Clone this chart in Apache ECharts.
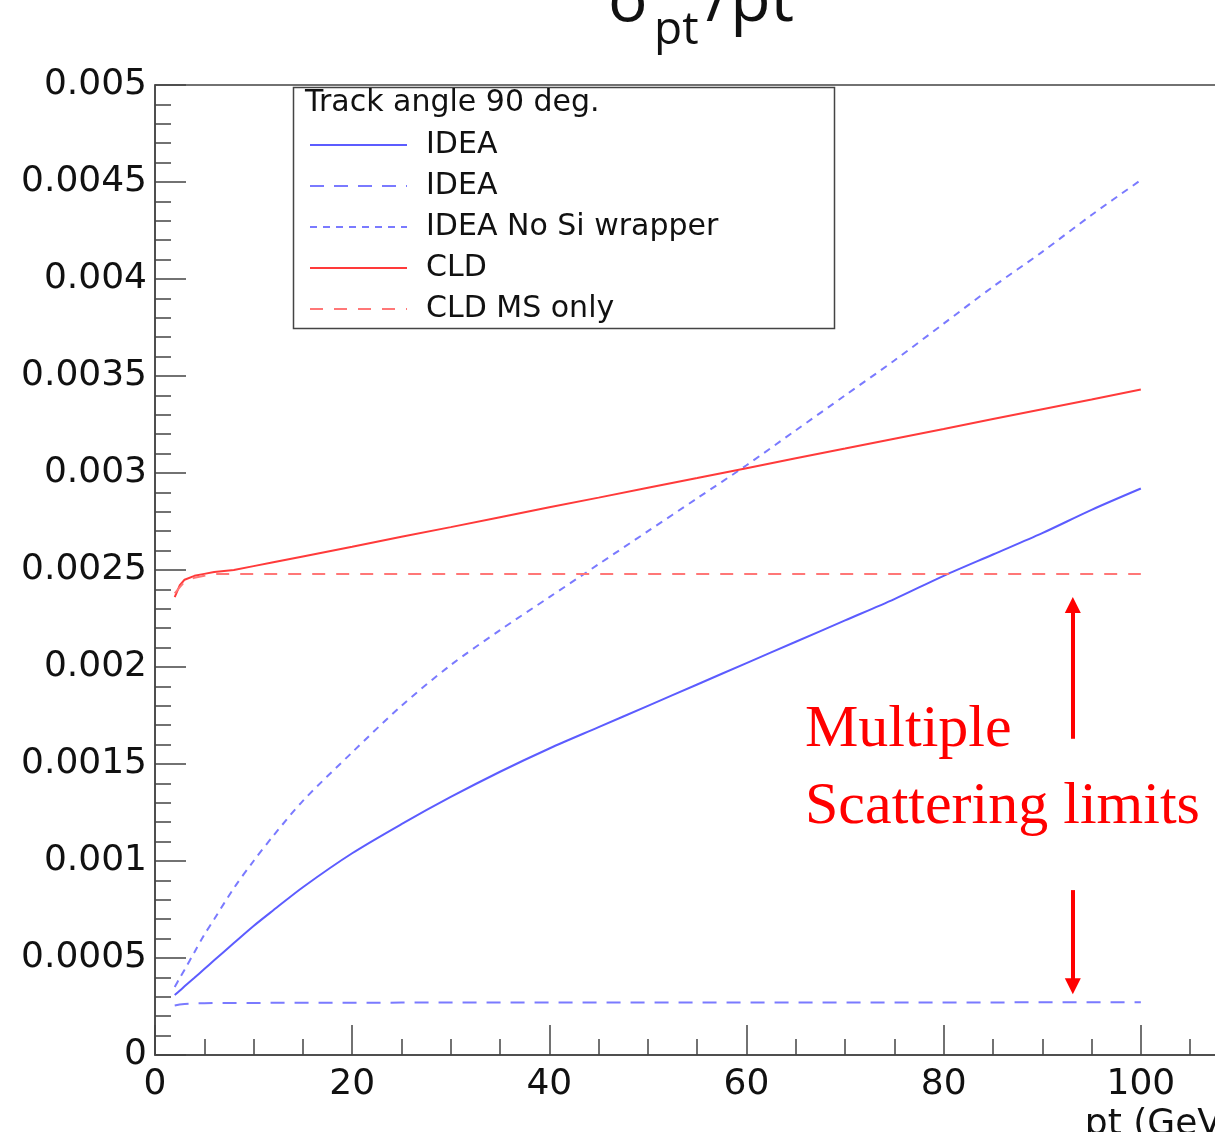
<!DOCTYPE html>
<html>
<head>
  <meta charset="utf-8">
  <title>sigma pt / pt</title>
  <script src="https://cdn.jsdelivr.net/npm/echarts@6/dist/echarts.min.js"></script>
  <style>
    html, body { margin: 0; padding: 0; background: #fff; }
  </style>
</head>
<body>
<div id="main" style="width: 1215px; height: 1132px;"></div>
<script type="text/javascript">
  // pt values (GeV) where the curves are sampled
  var pt = [2, 2.5, 3, 4, 5, 6, 8, 10, 12, 15, 20, 25, 30, 35, 40, 45, 50, 55, 60, 65, 70, 75, 80, 85, 90, 95, 100];

  // sigma_pt / pt
  var ideaTotal = [0.000309, 0.000331, 0.000354, 0.000398, 0.000443, 0.000488, 0.000577, 0.000665, 0.000746, 0.000865,
    0.00104, 0.00119, 0.00133, 0.00146, 0.00158, 0.00169, 0.0018, 0.00191, 0.00202, 0.00213,
    0.00224, 0.00235, 0.00247, 0.00258, 0.00269, 0.00281, 0.00292];
  var ideaMs = [0.000255, 0.00026, 0.000263, 0.000266, 0.000267, 0.000268, 0.000268, 0.000268, 0.000269, 0.000269,
    0.000269, 0.00027, 0.00027, 0.00027, 0.00027, 0.00027, 0.00027, 0.00027, 0.000271, 0.000271,
    0.000271, 0.000271, 0.000271, 0.000271, 0.000272, 0.000272, 0.000272];
  var ideaNoSi = [0.000351, 0.000396, 0.00044, 0.00053, 0.00062, 0.0007, 0.00086, 0.001, 0.00113, 0.00131,
    0.00156, 0.0018, 0.00201, 0.00219, 0.00236, 0.00253, 0.0027, 0.00287, 0.00304, 0.00322,
    0.0034, 0.00358, 0.00377, 0.00396, 0.00414, 0.00433, 0.00451];
  var cld = [0.00236, 0.00242, 0.00245, 0.00247, 0.00248, 0.00249, 0.0025, 0.00252, 0.00254, 0.00257,
    0.00262, 0.002671, 0.002721, 0.002772, 0.002823, 0.002873, 0.002924, 0.002974, 0.003025, 0.003076,
    0.003126, 0.003177, 0.003227, 0.003278, 0.003329, 0.003379, 0.00343];
  var cldMs = [0.00238, 0.00241, 0.00244, 0.00246, 0.00247, 0.00248, 0.00248, 0.00248, 0.00248, 0.00248,
    0.00248, 0.00248, 0.00248, 0.00248, 0.00248, 0.00248, 0.00248, 0.00248, 0.00248, 0.00248,
    0.00248, 0.00248, 0.00248, 0.00248, 0.00248, 0.00248, 0.00248];

  // legend names (second IDEA gets a trailing space so it keeps its own entry)
  var seriesNames = ['IDEA', 'IDEA ', 'IDEA No Si wrapper', 'CLD', 'CLD MS only'];

  function pairs(ys) {
    return pt.map(function (x, i) { return [x, ys[i]]; });
  }

  var blue = '#5c5cff';
  var blueLight = '#7a7aff';
  var red = '#ff3a3a';
  var redLight = '#ff7777';
  var axisColor = '#444';
  var sans = '"DejaVu Sans", Arial, sans-serif';

  var myChart = echarts.init(document.getElementById('main'));

  var option = {
    backgroundColor: '#fff',
    animation: false,
    grid: {
      left: 155, top: 85, bottom: 77, right: -123,
      containLabel: false,
      outerBoundsMode: 'none',
      show: true, borderColor: axisColor, borderWidth: 1.5, backgroundColor: 'transparent'
    },
    legend: {
      left: 304, top: 125,
      orient: 'vertical',
      itemWidth: 97, itemHeight: 30, itemGap: 11,
      data: seriesNames,
      formatter: function (name) { return name.trim(); },
      itemStyle: { opacity: 0 },
      textStyle: { fontSize: 30, fontFamily: sans, color: '#111', padding: [0, 0, 0, 14] },
      selectedMode: false
    },
    xAxis: {
      type: 'value', min: 0, max: 120, interval: 20,
      name: 'pt (GeV)', nameLocation: 'end', nameGap: -102,
      nameTextStyle: { fontSize: 36, fontFamily: sans, color: '#111', align: 'right', verticalAlign: 'top', padding: [52, 0, 0, 0] },
      axisLine: { show: true, lineStyle: { color: axisColor, width: 1.5 } },
      axisTick: { show: true, inside: true, length: 30, lineStyle: { color: axisColor, width: 1.5 } },
      minorTick: { show: true, splitNumber: 4, length: 16, lineStyle: { color: axisColor, width: 1.5 } },
      splitLine: { show: false },
      axisLabel: {
        fontSize: 36, fontFamily: sans, color: '#111', margin: 12,
        formatter: function (v) { return v <= 100 ? String(v) : ''; }
      }
    },
    yAxis: {
      type: 'value', min: 0, max: 0.005, interval: 0.0005,
      axisLine: { show: true, lineStyle: { color: axisColor, width: 1.5 } },
      axisTick: { show: true, inside: true, length: 31, lineStyle: { color: axisColor, width: 1.5 } },
      minorTick: { show: true, splitNumber: 5, length: 16, lineStyle: { color: axisColor, width: 1.5 } },
      splitLine: { show: false },
      axisLabel: {
        fontSize: 36, fontFamily: sans, color: '#111', margin: 8,
        formatter: function (v) { return String(+v.toFixed(4)); }
      }
    },
    series: [
      {
        name: seriesNames[0], type: 'line', data: pairs(ideaTotal), showSymbol: false, symbol: 'none', smooth: 0.3,
        lineStyle: { color: blue, width: 2 }, itemStyle: { color: blue }
      },
      {
        name: seriesNames[1], type: 'line', data: pairs(ideaMs), showSymbol: false, symbol: 'none',
        lineStyle: { color: blueLight, width: 2, type: [14, 10] }, itemStyle: { color: blueLight }
      },
      {
        name: seriesNames[2], type: 'line', data: pairs(ideaNoSi), showSymbol: false, symbol: 'none', smooth: 0.3,
        lineStyle: { color: blueLight, width: 2, type: [7, 6] }, itemStyle: { color: blueLight }
      },
      {
        name: seriesNames[3], type: 'line', data: pairs(cld), showSymbol: false, symbol: 'none',
        lineStyle: { color: red, width: 2 }, itemStyle: { color: red }
      },
      {
        name: seriesNames[4], type: 'line', data: pairs(cldMs), showSymbol: false, symbol: 'none',
        lineStyle: { color: redLight, width: 2, type: [13, 11] }, itemStyle: { color: redLight },
        markLine: {
          silent: true,
          symbol: ['none', 'triangle'],
          symbolSize: [16, 16],
          label: { show: false },
          lineStyle: { color: '#ff0000', width: 4, type: 'solid' },
          data: [
            [{ coord: [93.1, 0.00163] }, { coord: [93.1, 0.00232] }],
            [{ coord: [93.1, 0.00085] }, { coord: [93.1, 0.000355] }]
          ]
        }
      }
    ],
    graphic: [
      {
        type: 'rect', left: 291, top: 85, z: 10,
        shape: { width: 541, height: 241 },
        style: { fill: 'none', stroke: axisColor, lineWidth: 1.5 }
      },
      {
        type: 'text', left: 305, top: 88, z: 10,
        style: { text: 'Track angle 90 deg.', font: '30px ' + sans, fill: '#111' }
      },
      // title sigma_pt / pt (clipped at the top of the picture)
      {
        type: 'text', left: 608, top: -31, z: 10,
        style: { text: 'σ', font: '66px "Open Sans", sans-serif', fill: '#111' }
      },
      {
        type: 'text', left: 654, top: 8, z: 10,
        style: { text: 'pt', font: '46px "Open Sans", sans-serif', fill: '#111' }
      },
      {
        type: 'text', left: 706, top: -31, z: 10,
        style: { text: '/pt', font: '66px "Open Sans", sans-serif', fill: '#111' }
      },
      {
        type: 'text', left: 805, top: 692, z: 10,
        style: {
          text: 'Multiple\nScattering limits',
          font: '60px "Liberation Serif", "Times New Roman", serif',
          lineHeight: 77, fill: '#ff0000'
        }
      }
    ]
  };

  myChart.setOption(option);
</script>
</body>
</html>
